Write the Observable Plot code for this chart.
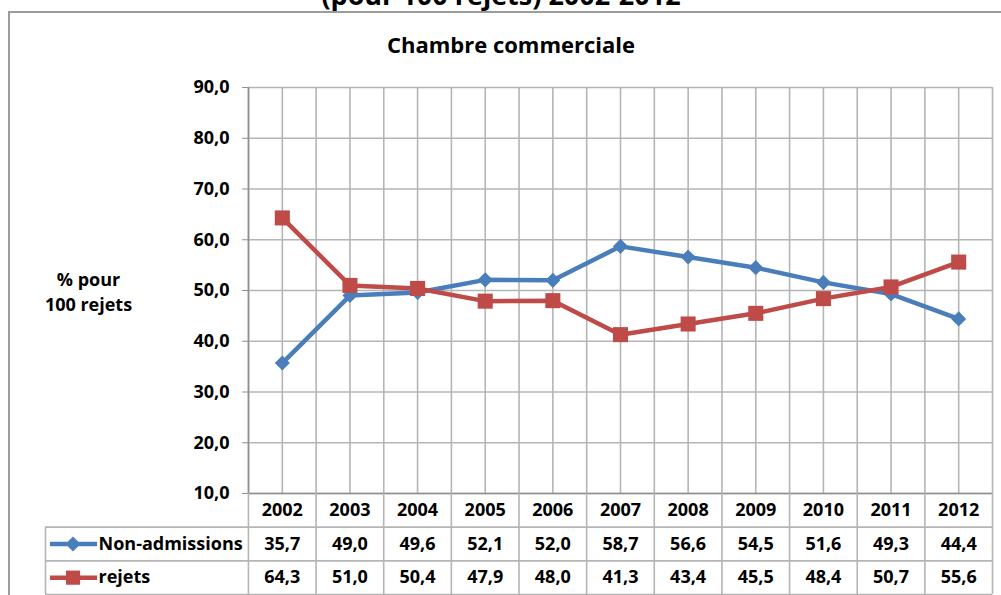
<!DOCTYPE html>
<html>
<head>
<meta charset="utf-8">
<script src="https://cdn.jsdelivr.net/npm/d3@7"></script>
<script src="https://cdn.jsdelivr.net/npm/@observablehq/plot@0.6"></script>
<style>
  body { margin: 0; background: white; }
  #wrap { position: relative; width: 1001px; height: 595px; overflow: hidden; background: white; font-family: "Open Sans", sans-serif; font-weight: bold; color: black; }
  #border { position: absolute; left: 8px; top: 11px; width: 1100px; height: 800px; border: 2px solid #9c9c9c; box-sizing: border-box; }
  .ttl { position: absolute; white-space: nowrap; transform: translateX(-50%); line-height: normal; }
  #wrap svg { position: absolute; left: 0; }
</style>
</head>
<body>
<div id="wrap">
  <div id="border"></div>
  <div class="ttl" id="t0" style="left:501px; top:-24px; font-size:27px;">(pour 100 rejets) 2002-2012</div>
  <div class="ttl" id="t1" style="left:511px; top:29px; font-size:22px;">Chambre commerciale</div>
</div>
<script>
// ---- data ----
const years = ["2002","2003","2004","2005","2006","2007","2008","2009","2010","2011","2012"];
const nonAdmissions = [35.7, 49.0, 49.6, 52.1, 52.0, 58.7, 56.6, 54.5, 51.6, 49.3, 44.4];
const rejets = [64.3, 51.0, 50.4, 47.9, 48.0, 41.3, 43.4, 45.5, 48.4, 50.7, 55.6];
const seriesNames = ["Non-admissions", "rejets"];
const yTicks = [10, 20, 30, 40, 50, 60, 70, 80, 90];
const yTitle = "% pour\n100 rejets";

const blue = "#4a7ebb";
const red = "#be4b48";
const gridColor = "#b5b5b5";
const fmt = d => d.toFixed(1).replace(".", ",");

const rowsA = years.map((y, i) => ({i, year: y, v: nonAdmissions[i]}));
const rowsB = years.map((y, i) => ({i, year: y, v: rejets[i]}));

const font = {fontFamily: "'Open Sans', sans-serif", fontSize: "18px", fontWeight: "bold", background: "none", overflow: "visible", color: "black"};

// ---- chart ----
const chart = Plot.plot({
  width: 1001,
  height: 500,
  marginLeft: 248,
  marginRight: 9,
  marginTop: 87,
  marginBottom: 7,
  style: font,
  x: {domain: [0, years.length], axis: null, label: null},
  y: {domain: [10, 90], axis: null, label: null},
  marks: [
    Plot.ruleX(d3.range(0, years.length + 0.01, 0.5), {stroke: gridColor, strokeWidth: 1.6}),
    Plot.ruleY(yTicks, {stroke: gridColor, strokeWidth: 1.6}),
    Plot.ruleX([0], {stroke: "#8f8f8f", strokeWidth: 1.6}),
    Plot.ruleY([10], {stroke: "#8f8f8f", strokeWidth: 1.6}),
    Plot.axisY({ticks: yTicks, tickFormat: fmt, tickSize: 6, tickPadding: 13, stroke: "#8f8f8f", fill: "black", fontSize: 18, label: null}),
    Plot.text([yTitle], {frameAnchor: "left", dx: -160, textAnchor: "middle", lineHeight: 1.4, fontSize: 18}),
    Plot.line(rowsA, {x: d => d.i + 0.5, y: "v", stroke: blue, strokeWidth: 4.5, strokeLinejoin: "round"}),
    Plot.dot(rowsA, {x: d => d.i + 0.5, y: "v", symbol: "diamond2", r: 6.8, fill: blue, stroke: "none"}),
    Plot.line(rowsB, {x: d => d.i + 0.5, y: "v", stroke: red, strokeWidth: 4.5, strokeLinejoin: "round"}),
    Plot.dot(rowsB, {x: d => d.i + 0.5, y: "v", symbol: "square", r: 8.5, fill: red, stroke: "none"})
  ]
});
chart.style.top = "0px";
document.getElementById("wrap").appendChild(chart);

// ---- data table ----
const keyX1 = -3 + 0.074, keyX2 = -3 + 0.77, keyM = -3 + 0.407, labelX = -3 + 0.784;
const table = Plot.plot({
  width: 1001,
  height: 102,
  marginLeft: 45,
  marginRight: 9,
  marginTop: 0,
  marginBottom: 1,
  style: font,
  x: {domain: [-3, years.length], axis: null, label: null},
  y: {domain: [0, 3], reverse: true, axis: null, label: null},
  marks: [
    Plot.ruleX(d3.range(0, years.length + 1), {y1: 0, y2: 3, stroke: gridColor, strokeWidth: 1.6}),
    Plot.ruleX([-3], {y1: 1, y2: 3, stroke: gridColor, strokeWidth: 1.6}),
    Plot.ruleY([1, 2, 3], {x1: -3, x2: years.length, stroke: gridColor, strokeWidth: 1.6}),
    Plot.text(years, {x: (d, i) => i + 0.5, y: () => 0.5, fontSize: 18}),
    Plot.text(nonAdmissions, {x: (d, i) => i + 0.5, y: () => 1.5, text: fmt, fontSize: 18}),
    Plot.text(rejets, {x: (d, i) => i + 0.5, y: () => 2.5, text: fmt, fontSize: 18}),
    Plot.text(seriesNames, {x: () => labelX, y: (d, i) => i + 1.5, textAnchor: "start", fontSize: 18}),
    Plot.ruleY([1.5], {x1: keyX1, x2: keyX2, stroke: blue, strokeWidth: 4.5}),
    Plot.dot([1.5], {x: () => keyM, y: d => d, symbol: "diamond2", r: 6.8, fill: blue, stroke: "none"}),
    Plot.ruleY([2.5], {x1: keyX1, x2: keyX2, stroke: red, strokeWidth: 4.5}),
    Plot.dot([2.5], {x: () => keyM, y: d => d, symbol: "square", r: 8, fill: red, stroke: "none"})
  ]
});
table.style.top = "493px";
document.getElementById("wrap").appendChild(table);
</script>
</body>
</html>
